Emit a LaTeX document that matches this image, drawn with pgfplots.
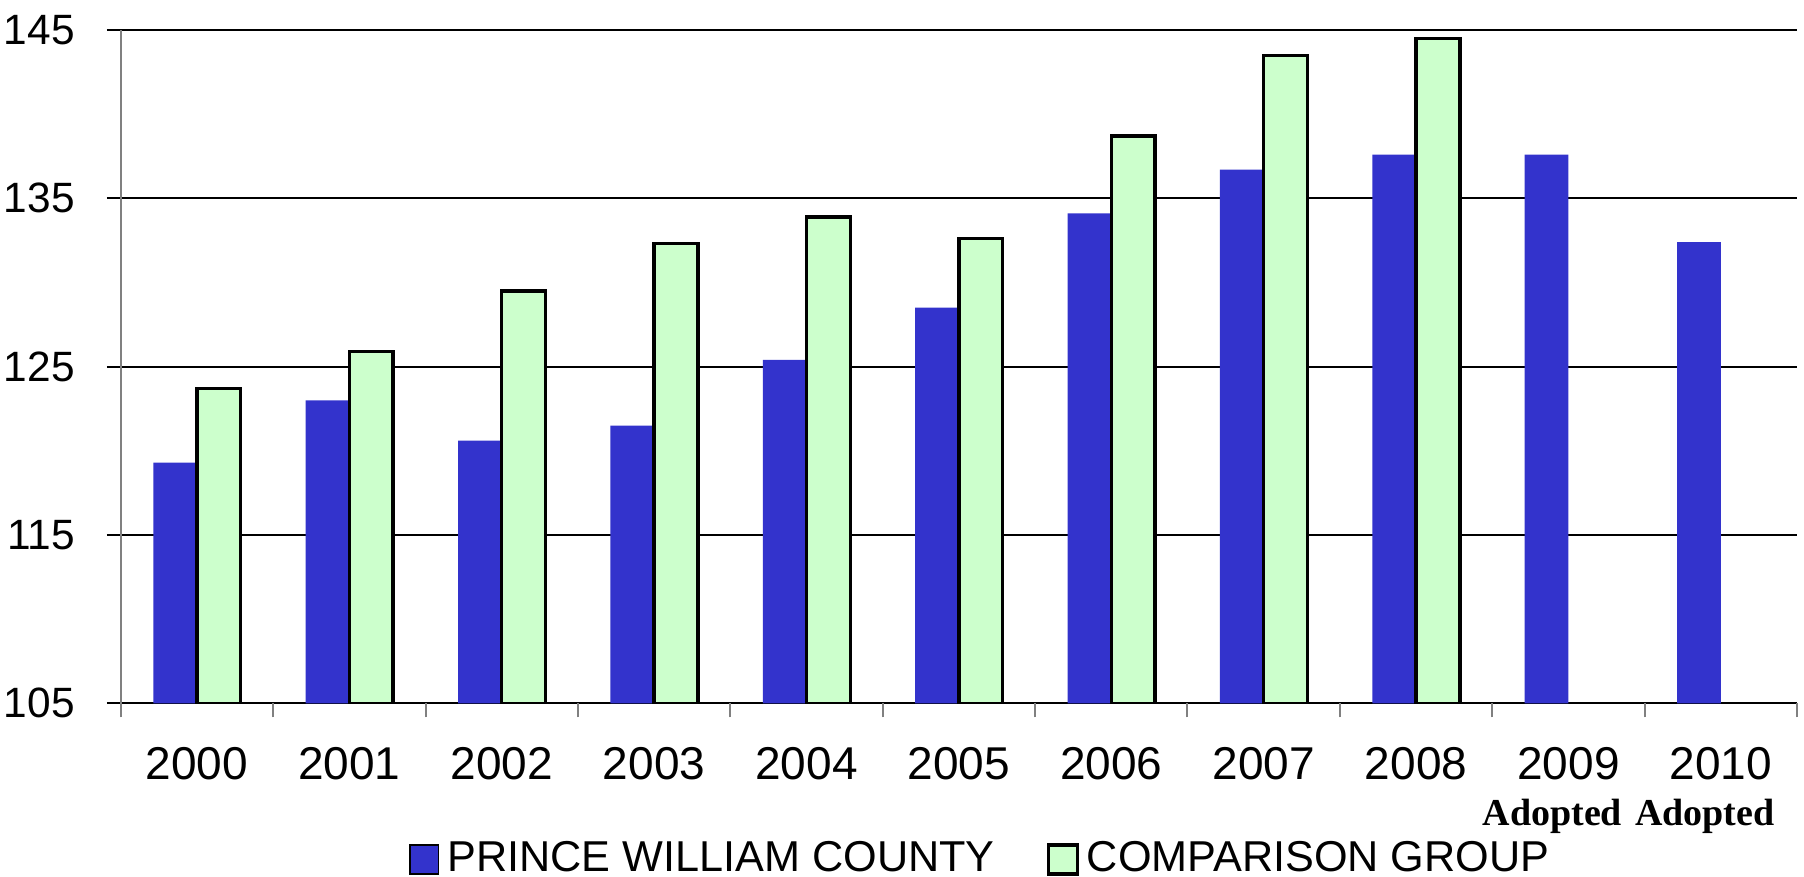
\documentclass[border=0pt]{standalone}
\usepackage{fontspec}
\setmainfont{Liberation Sans}
\newfontfamily\adoptfont{Liberation Serif}
\usepackage{pgfplots}
\pgfplotsset{compat=1.18}
\definecolor{pwcblue}{HTML}{3333CC}
\definecolor{cmpgreen}{HTML}{CCFFCC}
\newcommand{\adopted}{{\adoptfont\bfseries\fontsize{9.5}{10}\selectfont Adopted}\hspace*{8pt}}

\begin{document}
\begin{tikzpicture}
\begin{axis}[
  scale only axis,
  width=419pt, height=168.3pt,
  xmin=-0.5, xmax=10.5,
  ymin=105, ymax=145,
  ytick={105,115,125,135,145},
  xtick={0,...,10},
  xticklabels={2000,2001,2002,2003,2004,2005,2006,2007,2008,
    {2009\\[-1.5pt]\adopted},{2010\\[-1.5pt]\adopted}},
  /pgf/number format/assume math mode=true,
  axis lines*=left,
  x axis line style={black, line width=0.5pt, -},
  y axis line style={gray, line width=0.5pt, -},
  ymajorgrids,
  grid style={black, line width=0.45pt},
  tick align=outside,
  major tick length=3.5pt,
  ytick style={draw=black, line width=0.45pt},
  xtick style={draw=none},
  extra x ticks={-0.5,0.5,...,10.5},
  extra x tick labels={},
  extra x tick style={xtick style={draw=gray, line width=0.5pt}, grid=none},
  xticklabel style={font=\fontsize{11.5}{13}\selectfont, align=center, yshift=-4.1pt},
  yticklabel style={font=\fontsize{10.6}{13}\selectfont, xshift=-4.5pt},
  legend style={
    at={(axis description cs:0.5145,-0.232)}, anchor=center,
    draw=none, fill=none, inner sep=0pt,
    font=\fontsize{10.8}{13}\selectfont,
    legend columns=2,
    /tikz/every even column/.append style={column sep=11pt},
  },
  legend cell align=left,
  legend image code/.code={\draw[#1] (0pt,-3.6pt) rectangle (7.2pt,3.6pt);},
]
\addplot[ybar, bar width=0.287, bar shift=-0.1435, fill=pwcblue, draw=none]
  coordinates {(0,119.3) (1,123.0) (2,120.6) (3,121.5) (4,125.4) (5,128.5)
               (6,134.1) (7,136.7) (8,137.6) (9,137.6) (10,132.4)};
\addlegendentry{PRINCE WILLIAM COUNTY}
\addplot[ybar, bar width=0.287, bar shift=0.1435, fill=cmpgreen, draw=black, line width=0.85pt]
  coordinates {(0,123.7) (1,125.9) (2,129.5) (3,132.3) (4,133.9) (5,132.6)
               (6,138.7) (7,143.5) (8,144.5)};
\addlegendentry{COMPARISON GROUP}
\end{axis}
\pgfresetboundingbox
\path ([xshift=-30.2pt,yshift=-43.3pt]current axis.south west)
  rectangle ([xshift=1.75pt,yshift=7.5pt]current axis.north east);
\end{tikzpicture}
\end{document}
